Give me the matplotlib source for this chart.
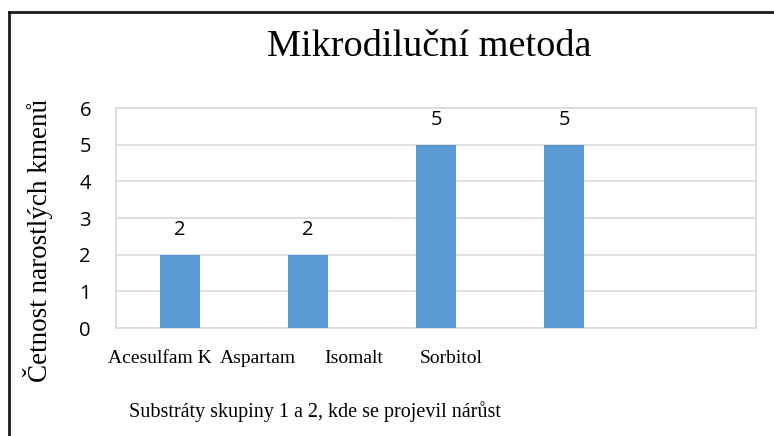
import matplotlib.pyplot as plt
from matplotlib.lines import Line2D

categories = ['Acesulfam K', 'Aspartam', 'Isomalt', 'Sorbitol', '']
values = [2, 2, 5, 5, None]
yticks = [0, 1, 2, 3, 4, 5, 6]

title = 'Mikrodiluční metoda'
ylabel = 'Četnost narostlých kmenů'
xlabel = 'Substráty skupiny 1 a 2, kde se projevil nárůst'

serif = ['Liberation Serif', 'DejaVu Serif']
sans = ['Open Sans', 'DejaVu Sans']

fig = plt.figure(figsize=(7.74, 4.36), dpi=100)
W, H = 774, 436
ax = fig.add_axes([116 / W, 1 - 328 / H, 640 / W, 220 / H])

xs = list(range(len(categories)))
bar_x = [x for x, v in zip(xs, values) if v is not None]
bar_v = [v for v in values if v is not None]
bars = ax.bar(bar_x, bar_v, width=40 / 128, color='#5B9BD5', zorder=3)
for b, v in zip(bars, bar_v):
    ax.annotate(str(v), (b.get_x() + b.get_width() / 2, v), xytext=(0, 18),
                textcoords='offset points', ha='center', va='center',
                fontsize=14.5, family=sans)

ax.set_xlim(-0.5, len(categories) - 0.5)
ax.set_ylim(0, 6)
ax.set_yticks(yticks)
ax.set_yticklabels([str(t) for t in yticks], fontsize=14.5, family=sans)
ax.tick_params(axis='y', length=0, pad=18)
ax.set_xticks([])
ax.grid(axis='y', color='#D9D9D9', linewidth=1.2, zorder=0)
for s in ax.spines.values():
    s.set_color('#D9D9D9')
    s.set_linewidth(1.2)

# x category labels sit left of the bar centres in the reference
label_pos = [0.069, 0.221, 0.372, 0.523]
for p, c in zip(label_pos, categories[:4]):
    ax.text(p, -0.14, c, transform=ax.transAxes, ha='center', va='center',
            fontsize=14, family=serif)

fig.text(429 / W, 1 - 47 / H, title, ha='center', va='center', fontsize=27.5, family=serif)
fig.text(38 / W, 1 - 240 / H, ylabel, ha='center', va='center', rotation=90,
         fontsize=19.5, family=serif)
fig.text(315 / W, 1 - 412 / H, xlabel, ha='center', va='center', fontsize=14.5, family=serif)

# outer frame (left and top only visible)
fig.add_artist(Line2D([9 / W, 9 / W], [0, 1 - 12 / H], transform=fig.transFigure,
                      color='#1a1a1a', linewidth=2))
fig.add_artist(Line2D([9 / W, 1], [1 - 12 / H, 1 - 12 / H], transform=fig.transFigure,
                      color='#1a1a1a', linewidth=2))

fig.savefig('out.png', dpi=100)
